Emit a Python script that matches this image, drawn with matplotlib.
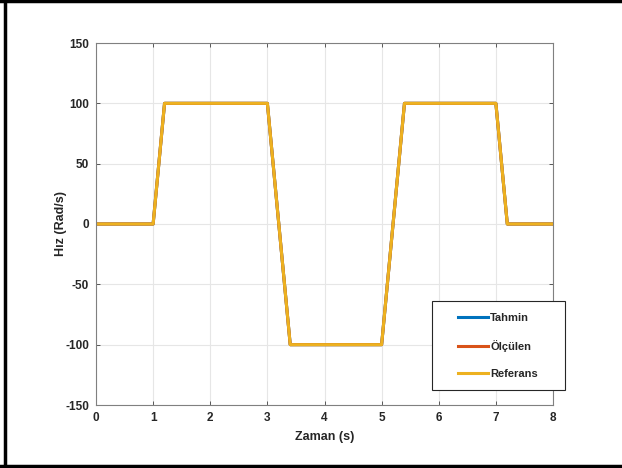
import matplotlib.pyplot as plt
from matplotlib.patches import Rectangle
from matplotlib.lines import Line2D

plt.rcParams['font.family'] = ['Liberation Sans', 'DejaVu Sans']
plt.rcParams['font.weight'] = 'bold'
plt.rcParams['axes.unicode_minus'] = False

# speed profile (time in s, speed in rad/s)
t = [0, 1.0, 1.2, 3.0, 3.4, 5.0, 5.4, 7.0, 7.2, 8.0]
referans = [0, 0, 100, 100, -100, -100, 100, 100, 0, 0]
olculen = [0, 0, 100, 100, -100, -100, 100, 100, 0, 0]
tahmin = [0, 0, 100, 100, -100, -100, 100, 100, 0, 0]

W, H = 622, 468
fig = plt.figure(figsize=(W / 100, H / 100), dpi=100)
ax = fig.add_axes([96 / W, 1 - 405 / H, (553 - 96) / W, (405 - 43) / H])

l1, = ax.plot(t, tahmin, color='#0072BD', lw=2.2, label='Tahmin')
l2, = ax.plot(t, olculen, color='#D95319', lw=2.2, label='Ölçülen')
l3, = ax.plot(t, referans, color='#EDB120', lw=2.2, label='Referans')

ax.set_xlim(0, 8)
ax.set_ylim(-150, 150)
ax.set_xticks(range(0, 9))
ax.set_yticks(range(-150, 151, 50))
ax.grid(True, color='#e6e6e6', lw=0.8)
ax.set_axisbelow(True)
for s in ax.spines.values():
    s.set_color('#808080')
    s.set_linewidth(0.8)
ax.tick_params(direction='in', length=3, width=0.6, color='#404040',
               labelsize=8.5, top=True, right=True, pad=5)
ax.set_xlabel('Zaman (s)', fontsize=9, fontweight='bold', color='#262626', labelpad=5)
ax.set_ylabel('Hız (Rad/s)', fontsize=9, fontweight='bold', color='#262626', labelpad=-1)
for lab in ax.get_xticklabels() + ax.get_yticklabels():
    lab.set_color('#262626')

# legend box sits partly outside the axes
box = Rectangle((432 / W, 1 - 390 / H), (565 - 432) / W, (390 - 301) / H,
                transform=fig.transFigure, facecolor='white', edgecolor='#262626',
                lw=0.8, zorder=5)
fig.add_artist(box)
leg = fig.legend(handles=[l1, l2, l3], loc='upper left',
                 bbox_to_anchor=(449 / W, 1 - 304 / H), frameon=False,
                 fontsize=8, handlelength=2.7, handletextpad=0.2,
                 labelspacing=1.55, borderpad=0.3)
leg.set_zorder(6)
for txt in leg.get_texts():
    txt.set_fontweight('bold')
    txt.set_color('#262626')

# outer frame
fig.add_artist(Line2D([0, 1], [1 - 1 / H, 1 - 1 / H], transform=fig.transFigure, color='black', lw=2.5))
fig.add_artist(Line2D([5 / W, 5 / W], [0, 1], transform=fig.transFigure, color='black', lw=2.5))
fig.add_artist(Line2D([0, 1], [1 - 465.5 / H, 1 - 465.5 / H], transform=fig.transFigure, color='black', lw=2.5))

fig.savefig('out.png', dpi=100)
